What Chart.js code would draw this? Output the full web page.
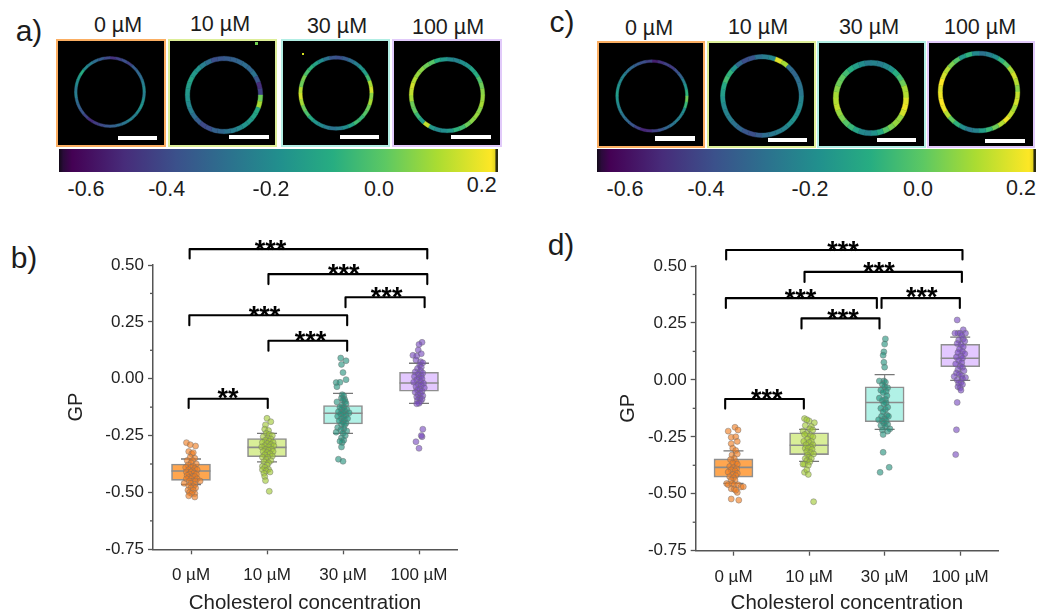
<!DOCTYPE html>
<html><head><meta charset="utf-8">
<script src="https://cdn.jsdelivr.net/npm/chart.js@4"></script>
<style>
html,body{margin:0;padding:0;background:#fff;width:1037px;height:612px;overflow:hidden}
body{position:relative;font-family:"Liberation Sans",Arial,sans-serif;color:#1c1c1c;filter:blur(.35px)}
.t{position:absolute;transform:translate(-50%,-50%);white-space:nowrap}
.panel{position:absolute;background:#000;box-sizing:border-box;border:2.5px solid}
.abs{position:absolute}
canvas{position:absolute;display:block}
</style></head><body>
<script>
/* ---------- data ---------- */
const groups = ["0 µM","10 µM","30 µM","100 µM"];
const yTicks = [-0.75,-0.5,-0.25,0,0.25,0.5];
const yMinor = [-0.625,-0.375,-0.125,0.125,0.375];

const boxB = {q1:[-0.447,-0.343,-0.199,-0.055], q3:[-0.375,-0.263,-0.118,0.028], med:[-0.406,-0.302,-0.152,-0.019], lo:[-0.465,-0.366,-0.240,-0.108], hi:[-0.353,-0.240,-0.064,0.068]};
const boxD = {q1:[-0.427,-0.328,-0.184,0.058], q3:[-0.347,-0.232,-0.030,0.156], med:[-0.384,-0.287,-0.099,0.095], lo:[-0.454,-0.358,-0.217,-0.002], hi:[-0.312,-0.217,0.023,0.188]};

const ptsB0 = [[-.06,-.281],[.06,-.296],[-.01,-.29],[-.03,-.32],[.01,-.33],[.03,-.325],[-.01,-.345],[.05,-.35],[-.05,-.36],[.02,-.36],[0,-.37],[.07,-.375],[-.04,-.38],[.03,-.385],[-.07,-.39],[0,-.39],[.05,-.395],[-.03,-.40],[.08,-.40],[.02,-.405],[-.06,-.41],[0,-.41],[.04,-.415],[-.02,-.42],[.07,-.42],[-.05,-.425],[.02,-.43],[.05,-.43],[-.03,-.435],[0,-.44],[.08,-.44],[-.06,-.44],[.03,-.45],[-.02,-.45],[.06,-.45],[.12,-.45],[-.09,-.46],[0,-.46],[.05,-.465],[-.03,-.47],[.03,-.475],[0,-.48],[.06,-.48],[-.04,-.49],[.03,-.49],[-.02,-.50],[.05,-.505],[.01,-.505],[.05,-.52],[-.03,-.515]];
const ptsB1 = [[0,-.174],[.05,-.189],[-.02,-.203],[-.03,-.222],[.02,-.228],[-.01,-.24],[.03,-.245],[.07,-.25],[-.05,-.255],[.01,-.26],[.05,-.265],[-.02,-.27],[.03,-.275],[.08,-.28],[-.06,-.28],[0,-.285],[.05,-.29],[-.03,-.295],[.09,-.295],[.02,-.30],[-.07,-.30],[.06,-.31],[-.02,-.31],[.02,-.315],[-.05,-.32],[.08,-.32],[0,-.325],[.04,-.33],[-.03,-.335],[.07,-.34],[-.06,-.345],[.01,-.345],[-.01,-.355],[.05,-.36],[-.04,-.365],[.02,-.37],[0,-.38],[-.06,-.385],[-.03,-.39],[.02,-.398],[-.06,-.40],[-.01,-.405],[.04,-.41],[-.04,-.416],[-.03,-.43],[-.02,-.448],[.03,-.495]];
const ptsB2 = [[-.03,.091],[.04,.079],[-.02,.063],[0,.027],[.04,-.004],[-.09,-.017],[-.04,-.016],[-.08,-.035],[-.01,-.07],[.01,-.075],[-.02,-.085],[.02,-.09],[0,-.095],[.03,-.10],[-.08,-.102],[.04,-.11],[-.01,-.115],[.01,-.125],[-.04,-.125],[-.02,-.135],[.05,-.135],[.02,-.14],[-.06,-.145],[0,-.15],[.08,-.15],[-.03,-.155],[.04,-.16],[-.07,-.165],[.01,-.165],[-.02,-.175],[.06,-.175],[.02,-.18],[-.05,-.185],[0,-.19],[.04,-.195],[-.02,-.20],[.02,-.205],[-.07,-.215],[.01,-.22],[-.03,-.225],[.05,-.23],[0,-.24],[-.09,-.235],[.03,-.25],[-.02,-.26],[.01,-.27],[-.01,-.28],[-.04,-.275],[-.02,-.30],[-.06,-.354],[0,-.363]];
const ptsB3 = [[.04,.16],[0,.151],[-.01,.126],[-.08,.103],[-.03,.10],[.03,.11],[-.04,.082],[.02,.075],[.05,.07],[.01,.06],[.03,.05],[-.02,.045],[.02,.035],[-.05,.03],[.05,.025],[-.01,.02],[.03,.012],[-.06,.01],[0,.005],[.04,0],[-.03,-.005],[.02,-.012],[-.07,-.015],[.06,-.02],[-.01,-.025],[.03,-.03],[-.04,-.035],[.07,-.04],[.01,-.045],[-.02,-.05],[.04,-.055],[-.05,-.06],[.02,-.065],[-.01,-.07],[.05,-.075],[-.03,-.08],[.01,-.085],[.04,-.09],[-.02,-.095],[.02,-.10],[0,-.108],[-.03,-.11],[.05,-.222],[.04,-.255],[.03,-.25],[-.04,-.277],[0,-.306]];
const ptsD0 = [[-.07,-.225],[.02,-.208],[.06,-.22],[-.03,-.252],[.03,-.25],[.05,-.27],[-.03,-.28],[-.01,-.30],[.03,-.31],[.05,-.325],[-.02,-.33],[.01,-.345],[-.04,-.35],[.03,-.36],[-.01,-.365],[.05,-.37],[-.05,-.38],[0,-.385],[.04,-.39],[-.03,-.395],[.02,-.40],[-.07,-.405],[.05,-.41],[-.01,-.415],[.03,-.42],[-.05,-.425],[0,-.43],[.02,-.44],[-.03,-.44],[-.09,-.455],[-.07,-.46],[-.02,-.455],[.01,-.46],[.06,-.46],[.1,-.47],[.13,-.469],[-.03,-.478],[.01,-.48],[.05,-.494],[-.03,-.523],[.07,-.528],[.03,-.485]];
const ptsD1 = [[-.06,-.17],[.07,-.188],[0,-.18],[-.03,-.175],[-.05,-.20],[.03,-.205],[-.08,-.225],[.01,-.215],[.05,-.22],[-.03,-.235],[-.06,-.24],[.02,-.245],[.05,-.25],[-.02,-.26],[-.07,-.27],[.03,-.27],[0,-.275],[-.04,-.285],[.05,-.285],[.02,-.295],[-.05,-.30],[-.01,-.30],[.04,-.305],[-.03,-.315],[.02,-.32],[.06,-.325],[-.02,-.33],[0,-.34],[-.05,-.345],[.03,-.345],[-.03,-.355],[.01,-.36],[-.06,-.37],[-.08,-.37],[-.01,-.375],[-.06,-.406],[-.03,-.395],[-.01,-.415],[.06,-.535]];
const ptsD2 = [[.01,.18],[0,.157],[-.01,.123],[-.02,.108],[-.01,.077],[0,.056],[-.01,-.005],[-.07,-.005],[.01,-.01],[-.03,-.02],[0,-.03],[.04,-.035],[-.05,-.045],[.02,-.05],[-.02,-.055],[.03,-.07],[-.07,-.08],[.01,-.085],[-.03,-.09],[.02,-.10],[-.01,-.105],[.04,-.12],[-.05,-.125],[.01,-.13],[-.02,-.14],[.03,-.155],[-.04,-.16],[0,-.17],[.05,-.16],[-.08,-.175],[-.03,-.18],[.02,-.18],[-.01,-.19],[.04,-.195],[-.05,-.20],[.01,-.205],[.07,-.215],[-.03,-.22],[.04,-.225],[-.02,-.24],[-.02,-.318],[.06,-.384],[-.06,-.406]];
const ptsD3 = [[-.04,.263],[.04,.22],[-.03,.205],[.07,.205],[0,.205],[-.07,.205],[.02,.195],[.04,.18],[-.02,.175],[.06,.17],[-.04,.16],[.01,.155],[.04,.145],[-.01,.135],[.03,.125],[-.03,.12],[.06,.115],[.01,.105],[-.05,.10],[.03,.095],[-.02,.085],[.02,.075],[-.06,.07],[0,.06],[.03,.055],[-.03,.045],[.05,.04],[-.05,.03],[-.01,.025],[.02,.018],[-.08,.015],[.07,.01],[.03,.005],[-.04,0],[.01,-.01],[-.02,-.015],[.03,-.02],[-.03,-.03],[0,-.035],[.01,-.045],[-.04,-.099],[-.05,-.219],[-.06,-.328]];

const bracketX1B=[-0.018,1.019,2.033,-0.022,1.019,-0.031], bracketX2B=[3.109,3.109,3.074,2.055,2.055,1.010];
const bracketTopB=[0.570,0.460,0.358,0.279,0.167,-0.088], bracketFootB=[0.529,0.416,0.314,0.235,0.123,-0.129];
const starXB=[1.045,2.011,2.574,0.966,1.572,0.487], starYB=[0.595,0.490,0.390,0.305,0.198,-0.054];
const starTextB=["***","***","***","***","***","**"];
const bracketX1D=[-0.097,0.940,1.959,-0.101,0.900,-0.110], bracketX2D=[3.030,3.022,2.995,1.897,1.932,0.931];
const bracketTopD=[0.570,0.474,0.359,0.359,0.270,-0.084], bracketFootD=[0.529,0.430,0.316,0.316,0.226,-0.126];
const starXD=[1.449,1.924,2.490,0.887,1.449,0.439], starYD=[0.597,0.506,0.395,0.387,0.298,-0.053];
const starTextD=["***","***","***","***","***","***"];

/* GP value of each ring sector, clockwise from the top */
const ringA0=[-.55,-.5,-.46,-.5,-.42,-.38,-.36,-.3,-.26,-.3,-.24,-.22,-.26,-.3,-.28,-.33,-.36,-.4,-.44,-.48,-.52,-.56,-.5,-.44,-.4,-.36,-.3,-.32,-.26,-.2,-.12,-.26,-.3,-.36,-.42,-.48];
const ringA1=[-.42,-.4,-.38,-.36,-.38,-.34,-.44,-.56,-.5,.02,.1,-.14,-.16,-.2,-.22,-.26,-.3,-.34,-.38,-.4,-.46,-.48,-.42,-.36,-.3,-.26,-.22,-.2,-.18,-.16,-.2,-.22,-.3,-.36,-.46,-.44];
const ringA2=[-.46,-.42,-.36,-.3,-.22,-.18,-.06,.1,.16,.06,.1,.02,-.02,-.08,-.06,-.16,-.24,-.3,-.34,-.3,-.26,-.22,-.14,-.04,.02,.1,.16,.12,.02,.04,-.04,-.1,-.16,-.24,-.34,-.44];
const ringA3=[-.26,-.28,-.24,-.22,-.16,-.12,-.04,.02,.06,.08,.1,.06,.08,.06,.02,-.06,-.1,-.2,-.24,-.26,-.2,.14,-.18,-.08,0,.02,.1,.14,.16,.12,.08,.06,.02,-.02,-.12,-.2];
const ringC0=[-.6,-.55,-.5,-.52,-.46,-.4,-.3,-.22,-.1,.02,-.08,-.24,-.28,-.3,-.34,-.38,-.44,-.5,-.56,-.58,-.5,-.44,-.38,-.34,-.3,-.26,-.22,-.18,-.22,-.26,-.28,-.34,-.38,-.42,-.46,-.5];
const ringC1=[-.3,-.26,.18,.1,-.36,-.38,-.36,-.34,-.32,-.28,-.26,-.24,-.22,-.24,-.28,-.3,-.32,-.36,-.42,-.46,-.44,-.38,-.34,-.3,-.28,-.26,-.22,-.18,-.14,-.06,-.1,-.22,-.38,-.46,-.44,-.34];
const ringC2=[-.28,-.3,-.26,-.22,-.12,-.06,.02,.1,.12,.18,.2,.16,.08,.08,.04,-.02,-.14,-.22,-.28,-.26,-.16,-.08,-.02,.04,.08,.14,.12,.1,.06,.02,0,-.06,-.12,-.18,-.24,-.3];
const ringC3=[-.34,-.3,-.24,-.1,-.02,.1,.16,.12,.06,.14,.16,.1,.14,.2,.12,.02,-.08,-.18,-.28,-.32,-.24,-.1,0,.12,.2,.22,.2,.18,.22,.16,.12,.04,-.02,-.2,-.1,-.26];

const colorTicks=["-0.6","-0.4","-0.2","0.0","0.2"];

/* ---------- styles ---------- */
const boxFill=["#FFA64F","#D9EE98","#B1F1E6","#E3C8FF"];
const frameCol=["#FBAE62","#DDEE98","#B2EEE4","#E1CAFA"];
const ptFill=["rgba(240,125,30,.62)","rgba(160,200,50,.62)","rgba(35,145,125,.62)","rgba(120,75,190,.62)"];
const viridis=[[68,1,84],[71,44,122],[59,81,139],[44,113,142],[33,144,141],[39,173,129],[92,200,99],[170,220,50],[253,231,37]];
function vir(t){t=Math.max(0,Math.min(1,t))*(viridis.length-1);const i=Math.min(Math.floor(t),viridis.length-2),f=t-i;
  const c=viridis[i].map((a,k)=>Math.round(a+(viridis[i+1][k]-a)*f));return `rgb(${c[0]},${c[1]},${c[2]})`;}
const gpColor=v=>vir((v+0.68)/0.9);

function el(cls,css,txt){const d=document.createElement('div');d.className=cls;Object.assign(d.style,css);if(txt)d.textContent=txt;document.body.appendChild(d);return d;}
function label(x,y,txt,size){el('t',{left:x+'px',top:y+'px',fontSize:size+'px'},txt);}

/* ---------- top panels ---------- */
function panel(x0,x1,y0,y1,col){el('panel',{left:x0+'px',top:y0+'px',width:(x1-x0)+'px',height:(y1-y0)+'px',borderColor:col});}
function ring(cx,cy,r,th,vals){
  const s=Math.ceil(r+2),c=document.createElement('canvas');
  c.width=c.height=2*s;c.style.left=(cx-s)+'px';c.style.top=(cy-s)+'px';c.style.width=c.style.height=(2*s)+'px';
  document.body.appendChild(c);
  const cols=vals.map(gpColor);
  new Chart(c,{type:'doughnut',data:{labels:vals.map((_,i)=>i),datasets:[{data:vals.map(()=>1),backgroundColor:cols,borderColor:cols,borderWidth:.4}]},
    options:{responsive:false,animation:false,events:[],radius:r,cutout:((r-th)/r*100)+'%',plugins:{legend:{display:false},tooltip:{enabled:false}}}});
}
function bar(x0,y0,x1,y1,col){el('abs',{left:x0+'px',top:y0+'px',width:(x1-x0)+'px',height:(y1-y0)+'px',background:col||'#fff'});}
function colorbar(x0,x1,y0,y1){
  let stops=['#120a18 0%','#2a0a3a 1%','#440154 3%'];
  viridis.forEach((c,i)=>{if(i>0&&i<viridis.length-1)stops.push(`rgb(${c})`+' '+(3+i/(viridis.length-1)*95)+'%')});
  stops.push('#fde725 98.4%','#e8d820 99.2%','#2a2a10 99.6%');
  el('abs',{left:x0+'px',top:y0+'px',width:(x1-x0)+'px',height:(y1-y0)+'px',background:`linear-gradient(90deg,${stops.join(',')})`});
}
panel(56,165.7,39,147,frameCol[0]);panel(168.3,277.3,39,147,frameCol[1]);panel(281,390,39,147,frameCol[2]);panel(392,501.7,39,147,frameCol[3]);
panel(597,705,41,148,frameCol[0]);panel(707,815.7,41,148,frameCol[1]);panel(817.3,925.7,41,148,frameCol[2]);panel(927,1035.3,41,148,frameCol[3]);
ring(109.5,91.7,35.5,2.6,ringA0);ring(223.7,95.3,38.7,4.4,ringA1);ring(336.2,93.3,37.2,3.4,ringA2);ring(446.7,94.8,37.7,3.8,ringA3);
ring(651.5,95.7,36.2,2.6,ringC0);ring(762,96.3,41.5,4.4,ringC1);ring(871.2,97.5,37.7,5.2,ringC2);ring(978.8,92,40.8,4.2,ringC3);
[[117.7,136,157.3,140.3],[229,135,268.7,139.3],[339.7,135,379.3,139.3],[451.3,135,491,139.3],
 [655,136.3,695,140.7],[767.7,138,807.3,142.3],[876.7,138,916.3,142.3],[985.3,138.7,1025,143]].forEach(b=>bar(b[0],b[1],b[2],b[3]));
bar(254.5,41.5,258,44.5,'#6fcf50');bar(302,53,304,55,'#d4e020');
colorbar(59,498.3,148.7,171.7);colorbar(596.7,1035.7,149,171.7);
[86,166.7,271,379,481.7].forEach((x,i)=>label(x,i==4?184.5:189,colorTicks[i],21.5));
[625,706,810,918,1021].forEach((x,i)=>label(x,i==4?188:189,colorTicks[i],21.5));
[[118,25],[220,24],[337,26],[448,27]].forEach((p,i)=>label(p[0],p[1],groups[i],21.5));
[[649,27.5],[758,27],[869,27],[980,27]].forEach((p,i)=>label(p[0],p[1],groups[i],21.5));
label(29,31,"a)",30);label(562,22,"c)",30);label(24,258,"b)",30);label(561,245,"d)",30);

/* ---------- box + scatter charts ---------- */
const annot={id:'annot',afterDatasetsDraw(ch,a,o){
  const {ctx,scales:{x,y}}=ch;ctx.save();
  ctx.strokeStyle='#555';ctx.lineWidth=1.3;
  yMinor.forEach(v=>{const p=y.getPixelForValue(v);ctx.beginPath();ctx.moveTo(y.right-3,p);ctx.lineTo(y.right,p);ctx.stroke();});
  ctx.fillStyle='#000';ctx.font='bold 27px "Liberation Sans"';ctx.textAlign='center';ctx.textBaseline='alphabetic';
  o.text.forEach((t,i)=>ctx.fillText(t,x.getPixelForValue(o.x[i]),y.getPixelForValue(o.y[i])+16));
  ctx.restore();
}};
function makeChart(cfg){
  const c=document.createElement('canvas');c.width=cfg.w;c.height=cfg.h;
  c.style.left=cfg.l+'px';c.style.top=cfg.t+'px';c.style.width=cfg.w+'px';c.style.height=cfg.h+'px';
  document.body.appendChild(c);
  const ds=[];
  groups.forEach((g,i)=>{
    ds.push({type:'bar',data:[{x:i,y:[cfg.box.q1[i],cfg.box.q3[i]]}],backgroundColor:boxFill[i],borderColor:'#8f8f8f',borderWidth:1.6,borderSkipped:false,barThickness:39,grouped:false,order:5});
    ds.push({type:'line',data:[{x:i,y:cfg.box.lo[i]},{x:i,y:cfg.box.hi[i]}],borderColor:'#8a8a8a',borderWidth:1.2,pointRadius:0,order:6});
    ds.push({type:'scatter',data:[{x:i,y:cfg.box.med[i]}],pointStyle:'line',pointRadius:19.5,pointBorderColor:'#8a8a8a',pointBorderWidth:1.6,order:4});
    ds.push({type:'scatter',data:[{x:i,y:cfg.box.lo[i]},{x:i,y:cfg.box.hi[i]}],pointStyle:'line',pointRadius:10,pointBorderColor:'#777',pointBorderWidth:1.3,order:4});
    ds.push({type:'scatter',data:cfg.pts[i].map(p=>({x:i+p[0],y:p[1]})),pointRadius:3,pointBackgroundColor:ptFill[i],pointBorderColor:'rgba(110,110,110,.55)',pointBorderWidth:.8,order:3});
  });
  cfg.bx1.forEach((_,i)=>ds.push({type:'line',clip:false,data:[{x:cfg.bx1[i],y:cfg.bf[i]},{x:cfg.bx1[i],y:cfg.bt[i]},{x:cfg.bx2[i],y:cfg.bt[i]},{x:cfg.bx2[i],y:cfg.bf[i]}],borderColor:'#000',borderWidth:2.1,pointRadius:0,borderJoinStyle:'round',borderCapStyle:'round',order:1}));
  new Chart(c,{type:'bar',data:{datasets:ds},plugins:[annot],options:{
    responsive:false,animation:false,events:[],
    layout:{padding:cfg.pad},
    plugins:{legend:{display:false},tooltip:{enabled:false},annot:{text:cfg.st,x:cfg.sx,y:cfg.sy}},
    scales:{
      x:{type:'linear',offset:false,min:-0.5,max:3.5,afterBuildTicks(s){s.ticks=groups.map((g,i)=>({value:i}));},afterFit(s){s.height=cfg.xH;},
        grid:{offset:false,drawOnChartArea:false,tickLength:5,tickColor:'#555',tickWidth:1.3},border:{color:'#555',width:1.5},
        ticks:{autoSkip:false,maxRotation:0,padding:11,color:'#222',font:{family:'"Liberation Sans"',size:17},callback:v=>groups[v]},
        title:{display:true,text:'Cholesterol concentration',color:'#222',font:{family:'"Liberation Sans"',size:20.5},padding:{top:4,bottom:-4}}},
      y:{type:'linear',min:-0.75,max:0.5,afterBuildTicks(s){s.ticks=yTicks.map(v=>({value:v}));},afterFit(s){s.width=cfg.yW;},
        grid:{drawOnChartArea:false,tickLength:5,tickColor:'#555',tickWidth:1.3},border:{color:'#555',width:1.5},
        ticks:{padding:4,color:'#222',font:{family:'"Liberation Sans"',size:17},callback:v=>v.toFixed(2)},
        title:{display:true,text:'GP',color:'#222',font:{family:'"Liberation Sans"',size:20},padding:0}}
    }}});
}
makeChart({l:0,t:220,w:515,h:392,pad:{top:45,right:58,bottom:0,left:64},xH:62.7,yW:89,box:boxB,pts:[ptsB0,ptsB1,ptsB2,ptsB3],
  bx1:bracketX1B,bx2:bracketX2B,bt:bracketTopB,bf:bracketFootB,sx:starXB,sy:starYB,st:starTextB});
makeChart({l:518,t:220,w:519,h:392,pad:{top:46,right:39,bottom:0,left:98},xH:61.3,yW:79.7,box:boxD,pts:[ptsD0,ptsD1,ptsD2,ptsD3],
  bx1:bracketX1D,bx2:bracketX2D,bt:bracketTopD,bf:bracketFootD,sx:starXD,sy:starYD,st:starTextD});
</script>
</body></html>
